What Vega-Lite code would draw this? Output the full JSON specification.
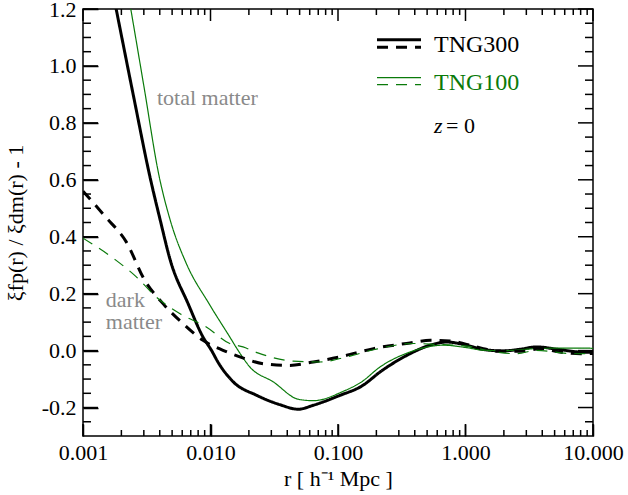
{
  "$schema": "https://vega.github.io/schema/vega-lite/v6.json",
  "width": 510,
  "height": 427,
  "autosize": {"type": "none"},
  "padding": {"left": 83, "top": 9, "right": 35, "bottom": 59},
  "background": "white",
  "config": {
    "view": {"stroke": "black", "strokeWidth": 1.5}
  },
  "datasets": {
    "curves": [
      {"sim": "TNG300", "kind": "total", "r": 0.0015, "v": 1.39},
      {"sim": "TNG300", "kind": "total", "r": 0.00182, "v": 1.2},
      {"sim": "TNG300", "kind": "total", "r": 0.0025, "v": 0.89},
      {"sim": "TNG300", "kind": "total", "r": 0.00333, "v": 0.616},
      {"sim": "TNG300", "kind": "total", "r": 0.00404, "v": 0.457},
      {"sim": "TNG300", "kind": "total", "r": 0.00484, "v": 0.317},
      {"sim": "TNG300", "kind": "total", "r": 0.00667, "v": 0.165},
      {"sim": "TNG300", "kind": "total", "r": 0.00873, "v": 0.048},
      {"sim": "TNG300", "kind": "total", "r": 0.0102, "v": 0.0},
      {"sim": "TNG300", "kind": "total", "r": 0.0115, "v": -0.042},
      {"sim": "TNG300", "kind": "total", "r": 0.0151, "v": -0.11},
      {"sim": "TNG300", "kind": "total", "r": 0.023, "v": -0.157},
      {"sim": "TNG300", "kind": "total", "r": 0.035, "v": -0.19},
      {"sim": "TNG300", "kind": "total", "r": 0.0489, "v": -0.206},
      {"sim": "TNG300", "kind": "total", "r": 0.064, "v": -0.192},
      {"sim": "TNG300", "kind": "total", "r": 0.104, "v": -0.157},
      {"sim": "TNG300", "kind": "total", "r": 0.153, "v": -0.125},
      {"sim": "TNG300", "kind": "total", "r": 0.22, "v": -0.071},
      {"sim": "TNG300", "kind": "total", "r": 0.367, "v": -0.011},
      {"sim": "TNG300", "kind": "total", "r": 0.527, "v": 0.019},
      {"sim": "TNG300", "kind": "total", "r": 0.713, "v": 0.03},
      {"sim": "TNG300", "kind": "total", "r": 1.02, "v": 0.019},
      {"sim": "TNG300", "kind": "total", "r": 1.38, "v": 0.004},
      {"sim": "TNG300", "kind": "total", "r": 1.98, "v": -0.001},
      {"sim": "TNG300", "kind": "total", "r": 2.7, "v": 0.005},
      {"sim": "TNG300", "kind": "total", "r": 3.6, "v": 0.013},
      {"sim": "TNG300", "kind": "total", "r": 5.2, "v": 0.005},
      {"sim": "TNG300", "kind": "total", "r": 7.9, "v": -0.005},
      {"sim": "TNG300", "kind": "total", "r": 10, "v": -0.006},
      {"sim": "TNG100", "kind": "total", "r": 0.002, "v": 1.39},
      {"sim": "TNG100", "kind": "total", "r": 0.00237, "v": 1.2},
      {"sim": "TNG100", "kind": "total", "r": 0.003, "v": 0.93},
      {"sim": "TNG100", "kind": "total", "r": 0.00394, "v": 0.616},
      {"sim": "TNG100", "kind": "total", "r": 0.00484, "v": 0.457},
      {"sim": "TNG100", "kind": "total", "r": 0.00646, "v": 0.306},
      {"sim": "TNG100", "kind": "total", "r": 0.00973, "v": 0.165},
      {"sim": "TNG100", "kind": "total", "r": 0.01416, "v": 0.048},
      {"sim": "TNG100", "kind": "total", "r": 0.0165, "v": 0.0},
      {"sim": "TNG100", "kind": "total", "r": 0.0204, "v": -0.058},
      {"sim": "TNG100", "kind": "total", "r": 0.0311, "v": -0.11},
      {"sim": "TNG100", "kind": "total", "r": 0.0489, "v": -0.171},
      {"sim": "TNG100", "kind": "total", "r": 0.064, "v": -0.176},
      {"sim": "TNG100", "kind": "total", "r": 0.11, "v": -0.143},
      {"sim": "TNG100", "kind": "total", "r": 0.153, "v": -0.11},
      {"sim": "TNG100", "kind": "total", "r": 0.213, "v": -0.058},
      {"sim": "TNG100", "kind": "total", "r": 0.367, "v": -0.005},
      {"sim": "TNG100", "kind": "total", "r": 0.67, "v": 0.019},
      {"sim": "TNG100", "kind": "total", "r": 1.0, "v": 0.011},
      {"sim": "TNG100", "kind": "total", "r": 1.4, "v": 0.001},
      {"sim": "TNG100", "kind": "total", "r": 2.0, "v": 0.0},
      {"sim": "TNG100", "kind": "total", "r": 4.0, "v": 0.008},
      {"sim": "TNG100", "kind": "total", "r": 8.0, "v": 0.009},
      {"sim": "TNG100", "kind": "total", "r": 10, "v": 0.008},
      {"sim": "TNG300", "kind": "dm", "r": 0.001, "v": 0.56},
      {"sim": "TNG300", "kind": "dm", "r": 0.0015, "v": 0.47},
      {"sim": "TNG300", "kind": "dm", "r": 0.00219, "v": 0.381},
      {"sim": "TNG300", "kind": "dm", "r": 0.00305, "v": 0.247},
      {"sim": "TNG300", "kind": "dm", "r": 0.00424, "v": 0.165},
      {"sim": "TNG300", "kind": "dm", "r": 0.00608, "v": 0.095},
      {"sim": "TNG300", "kind": "dm", "r": 0.00873, "v": 0.036},
      {"sim": "TNG300", "kind": "dm", "r": 0.01253, "v": 0.001},
      {"sim": "TNG300", "kind": "dm", "r": 0.017, "v": -0.022},
      {"sim": "TNG300", "kind": "dm", "r": 0.026, "v": -0.046},
      {"sim": "TNG300", "kind": "dm", "r": 0.042, "v": -0.052},
      {"sim": "TNG300", "kind": "dm", "r": 0.064, "v": -0.04},
      {"sim": "TNG300", "kind": "dm", "r": 0.104, "v": -0.022},
      {"sim": "TNG300", "kind": "dm", "r": 0.19, "v": 0.007},
      {"sim": "TNG300", "kind": "dm", "r": 0.367, "v": 0.027},
      {"sim": "TNG300", "kind": "dm", "r": 0.53, "v": 0.036},
      {"sim": "TNG300", "kind": "dm", "r": 0.755, "v": 0.034},
      {"sim": "TNG300", "kind": "dm", "r": 1.02, "v": 0.022},
      {"sim": "TNG300", "kind": "dm", "r": 1.38, "v": 0.007},
      {"sim": "TNG300", "kind": "dm", "r": 1.75, "v": -0.002},
      {"sim": "TNG300", "kind": "dm", "r": 2.8, "v": -0.002},
      {"sim": "TNG300", "kind": "dm", "r": 3.9, "v": 0.007},
      {"sim": "TNG300", "kind": "dm", "r": 5.5, "v": -0.005},
      {"sim": "TNG300", "kind": "dm", "r": 8, "v": -0.011},
      {"sim": "TNG300", "kind": "dm", "r": 10, "v": -0.01},
      {"sim": "TNG100", "kind": "dm", "r": 0.001, "v": 0.395},
      {"sim": "TNG100", "kind": "dm", "r": 0.00182, "v": 0.317},
      {"sim": "TNG100", "kind": "dm", "r": 0.00262, "v": 0.259},
      {"sim": "TNG100", "kind": "dm", "r": 0.00376, "v": 0.188},
      {"sim": "TNG100", "kind": "dm", "r": 0.00573, "v": 0.13},
      {"sim": "TNG100", "kind": "dm", "r": 0.00927, "v": 0.083},
      {"sim": "TNG100", "kind": "dm", "r": 0.01416, "v": 0.025},
      {"sim": "TNG100", "kind": "dm", "r": 0.018, "v": 0.013},
      {"sim": "TNG100", "kind": "dm", "r": 0.0235, "v": -0.008},
      {"sim": "TNG100", "kind": "dm", "r": 0.0446, "v": -0.037},
      {"sim": "TNG100", "kind": "dm", "r": 0.072, "v": -0.04},
      {"sim": "TNG100", "kind": "dm", "r": 0.117, "v": -0.022},
      {"sim": "TNG100", "kind": "dm", "r": 0.19, "v": 0.003},
      {"sim": "TNG100", "kind": "dm", "r": 0.39, "v": 0.025},
      {"sim": "TNG100", "kind": "dm", "r": 0.58, "v": 0.022},
      {"sim": "TNG100", "kind": "dm", "r": 1.06, "v": 0.015},
      {"sim": "TNG100", "kind": "dm", "r": 1.39, "v": 0.003},
      {"sim": "TNG100", "kind": "dm", "r": 2.5, "v": -0.011},
      {"sim": "TNG100", "kind": "dm", "r": 3.6, "v": 0.001},
      {"sim": "TNG100", "kind": "dm", "r": 7.0, "v": -0.011},
      {"sim": "TNG100", "kind": "dm", "r": 10, "v": -0.01}
    ],
    "notes": [
      {"label": "total matter", "r": 0.0038, "v": 0.862},
      {"label": "dark", "r": 0.00151, "v": 0.152},
      {"label": "matter", "r": 0.00151, "v": 0.075}
    ],
    "keytext": [
      {"label": "TNG300", "sim": "TNG300", "r": 0.566, "v": 1.049},
      {"label": "TNG100", "sim": "TNG100", "r": 0.566, "v": 0.917}
    ],
    "keylines": [
      {"sim": "TNG300", "kind": "total", "r1": 0.2023, "r2": 0.4477, "v": 1.092},
      {"sim": "TNG300", "kind": "dm", "r1": 0.2023, "r2": 0.4477, "v": 1.066},
      {"sim": "TNG100", "kind": "total", "r1": 0.2023, "r2": 0.4477, "v": 0.959},
      {"sim": "TNG100", "kind": "dm", "r1": 0.2023, "r2": 0.4477, "v": 0.934}
    ],
    "redshift": [
      {"z": "z", "eq": "= 0", "r": 0.566, "r2": 0.703, "v": 0.764}
    ],
    "xticks": [
      {"t": 0.001, "b1": -0.3, "b2": -0.2579, "u1": 1.2, "u2": 1.1579},
      {"t": 0.01, "b1": -0.3, "b2": -0.2579, "u1": 1.2, "u2": 1.1579},
      {"t": 0.1, "b1": -0.3, "b2": -0.2579, "u1": 1.2, "u2": 1.1579},
      {"t": 1, "b1": -0.3, "b2": -0.2579, "u1": 1.2, "u2": 1.1579},
      {"t": 10, "b1": -0.3, "b2": -0.2579, "u1": 1.2, "u2": 1.1579},
      {"t": 0.002, "b1": -0.3, "b2": -0.2789, "u1": 1.2, "u2": 1.1789},
      {"t": 0.003, "b1": -0.3, "b2": -0.2789, "u1": 1.2, "u2": 1.1789},
      {"t": 0.004, "b1": -0.3, "b2": -0.2789, "u1": 1.2, "u2": 1.1789},
      {"t": 0.005, "b1": -0.3, "b2": -0.2789, "u1": 1.2, "u2": 1.1789},
      {"t": 0.006, "b1": -0.3, "b2": -0.2789, "u1": 1.2, "u2": 1.1789},
      {"t": 0.007, "b1": -0.3, "b2": -0.2789, "u1": 1.2, "u2": 1.1789},
      {"t": 0.008, "b1": -0.3, "b2": -0.2789, "u1": 1.2, "u2": 1.1789},
      {"t": 0.009, "b1": -0.3, "b2": -0.2789, "u1": 1.2, "u2": 1.1789},
      {"t": 0.02, "b1": -0.3, "b2": -0.2789, "u1": 1.2, "u2": 1.1789},
      {"t": 0.03, "b1": -0.3, "b2": -0.2789, "u1": 1.2, "u2": 1.1789},
      {"t": 0.04, "b1": -0.3, "b2": -0.2789, "u1": 1.2, "u2": 1.1789},
      {"t": 0.05, "b1": -0.3, "b2": -0.2789, "u1": 1.2, "u2": 1.1789},
      {"t": 0.06, "b1": -0.3, "b2": -0.2789, "u1": 1.2, "u2": 1.1789},
      {"t": 0.07, "b1": -0.3, "b2": -0.2789, "u1": 1.2, "u2": 1.1789},
      {"t": 0.08, "b1": -0.3, "b2": -0.2789, "u1": 1.2, "u2": 1.1789},
      {"t": 0.09, "b1": -0.3, "b2": -0.2789, "u1": 1.2, "u2": 1.1789},
      {"t": 0.2, "b1": -0.3, "b2": -0.2789, "u1": 1.2, "u2": 1.1789},
      {"t": 0.3, "b1": -0.3, "b2": -0.2789, "u1": 1.2, "u2": 1.1789},
      {"t": 0.4, "b1": -0.3, "b2": -0.2789, "u1": 1.2, "u2": 1.1789},
      {"t": 0.5, "b1": -0.3, "b2": -0.2789, "u1": 1.2, "u2": 1.1789},
      {"t": 0.6, "b1": -0.3, "b2": -0.2789, "u1": 1.2, "u2": 1.1789},
      {"t": 0.7, "b1": -0.3, "b2": -0.2789, "u1": 1.2, "u2": 1.1789},
      {"t": 0.8, "b1": -0.3, "b2": -0.2789, "u1": 1.2, "u2": 1.1789},
      {"t": 0.9, "b1": -0.3, "b2": -0.2789, "u1": 1.2, "u2": 1.1789},
      {"t": 2, "b1": -0.3, "b2": -0.2789, "u1": 1.2, "u2": 1.1789},
      {"t": 3, "b1": -0.3, "b2": -0.2789, "u1": 1.2, "u2": 1.1789},
      {"t": 4, "b1": -0.3, "b2": -0.2789, "u1": 1.2, "u2": 1.1789},
      {"t": 5, "b1": -0.3, "b2": -0.2789, "u1": 1.2, "u2": 1.1789},
      {"t": 6, "b1": -0.3, "b2": -0.2789, "u1": 1.2, "u2": 1.1789},
      {"t": 7, "b1": -0.3, "b2": -0.2789, "u1": 1.2, "u2": 1.1789},
      {"t": 8, "b1": -0.3, "b2": -0.2789, "u1": 1.2, "u2": 1.1789},
      {"t": 9, "b1": -0.3, "b2": -0.2789, "u1": 1.2, "u2": 1.1789}
    ],
    "yticks": [
      {"t": -0.2, "l1": 0.001, "l2": 0.001311, "r1": 7.627, "r2": 10},
      {"t": 0, "l1": 0.001, "l2": 0.001311, "r1": 7.627, "r2": 10},
      {"t": 0.2, "l1": 0.001, "l2": 0.001311, "r1": 7.627, "r2": 10},
      {"t": 0.4, "l1": 0.001, "l2": 0.001311, "r1": 7.627, "r2": 10},
      {"t": 0.6, "l1": 0.001, "l2": 0.001311, "r1": 7.627, "r2": 10},
      {"t": 0.8, "l1": 0.001, "l2": 0.001311, "r1": 7.627, "r2": 10},
      {"t": 1.0, "l1": 0.001, "l2": 0.001311, "r1": 7.627, "r2": 10},
      {"t": 1.2, "l1": 0.001, "l2": 0.001311, "r1": 7.627, "r2": 10},
      {"t": -0.25, "l1": 0.001, "l2": 0.001155, "r1": 8.655, "r2": 10},
      {"t": -0.15, "l1": 0.001, "l2": 0.001155, "r1": 8.655, "r2": 10},
      {"t": -0.1, "l1": 0.001, "l2": 0.001155, "r1": 8.655, "r2": 10},
      {"t": -0.05, "l1": 0.001, "l2": 0.001155, "r1": 8.655, "r2": 10},
      {"t": 0.05, "l1": 0.001, "l2": 0.001155, "r1": 8.655, "r2": 10},
      {"t": 0.1, "l1": 0.001, "l2": 0.001155, "r1": 8.655, "r2": 10},
      {"t": 0.15, "l1": 0.001, "l2": 0.001155, "r1": 8.655, "r2": 10},
      {"t": 0.25, "l1": 0.001, "l2": 0.001155, "r1": 8.655, "r2": 10},
      {"t": 0.3, "l1": 0.001, "l2": 0.001155, "r1": 8.655, "r2": 10},
      {"t": 0.35, "l1": 0.001, "l2": 0.001155, "r1": 8.655, "r2": 10},
      {"t": 0.45, "l1": 0.001, "l2": 0.001155, "r1": 8.655, "r2": 10},
      {"t": 0.5, "l1": 0.001, "l2": 0.001155, "r1": 8.655, "r2": 10},
      {"t": 0.55, "l1": 0.001, "l2": 0.001155, "r1": 8.655, "r2": 10},
      {"t": 0.65, "l1": 0.001, "l2": 0.001155, "r1": 8.655, "r2": 10},
      {"t": 0.7, "l1": 0.001, "l2": 0.001155, "r1": 8.655, "r2": 10},
      {"t": 0.75, "l1": 0.001, "l2": 0.001155, "r1": 8.655, "r2": 10},
      {"t": 0.85, "l1": 0.001, "l2": 0.001155, "r1": 8.655, "r2": 10},
      {"t": 0.9, "l1": 0.001, "l2": 0.001155, "r1": 8.655, "r2": 10},
      {"t": 0.95, "l1": 0.001, "l2": 0.001155, "r1": 8.655, "r2": 10},
      {"t": 1.05, "l1": 0.001, "l2": 0.001155, "r1": 8.655, "r2": 10},
      {"t": 1.1, "l1": 0.001, "l2": 0.001155, "r1": 8.655, "r2": 10},
      {"t": 1.15, "l1": 0.001, "l2": 0.001155, "r1": 8.655, "r2": 10}
    ]
  },
  "encoding": {
    "x": {"type": "quantitative", "scale": {"type": "log", "domain": [0.001, 10], "nice": false}},
    "y": {"type": "quantitative", "scale": {"domain": [-0.3, 1.2], "nice": false, "zero": false}}
  },
  "layer": [
    {
      "data": {"name": "curves"},
      "mark": {"type": "line", "clip": true, "interpolate": "monotone"},
      "encoding": {
        "x": {"field": "r", "type": "quantitative",
          "axis": {"orient": "bottom", "values": [0.001, 0.01, 0.1, 1, 10], "format": ".3f", "offset": -12, "domain": false, "grid": false, "ticks": true, "tickColor": "black", "tickWidth": 1.5, "tickSize": 12, "labelPadding": 6, "labelFont": "Liberation Serif", "labelFontSize": 22, "labelColor": "black", "labelFlush": false, "labelOverlap": false, "labelBound": false, "title": "r  [ h⁻¹ Mpc ]", "titleFont": "Liberation Serif", "titleFontSize": 22, "titleFontWeight": "normal", "titleColor": "black", "titlePadding": 5}},
        "y": {"field": "v", "type": "quantitative",
          "axis": {"orient": "left", "values": [-0.2, 0, 0.2, 0.4, 0.6, 0.8, 1.0, 1.2], "labelExpr": "replace(format(datum.value, '.1f'), '−', '-')", "offset": -15, "domain": false, "grid": false, "ticks": true, "tickColor": "black", "tickWidth": 1.5, "tickSize": 15, "labelPadding": 7, "labelFont": "Liberation Serif", "labelFontSize": 22, "labelColor": "black", "labelFlush": false, "labelOverlap": false, "labelBound": false, "title": "ξfp(r) / ξdm(r)  -  1", "titleFont": "Liberation Serif", "titleFontSize": 22, "titleFontWeight": "normal", "titleColor": "black", "titlePadding": 14}},
        "detail": {"field": "kind"},
        "color": {"field": "sim", "type": "nominal", "scale": {"domain": ["TNG300", "TNG100"], "range": ["black", "#0a7a0a"]}, "legend": null},
        "strokeWidth": {"field": "sim", "type": "nominal", "scale": {"domain": ["TNG300", "TNG100"], "range": [3, 1.2]}, "legend": null},
        "strokeDash": {"field": "kind", "type": "nominal", "scale": {"domain": ["total", "dm"], "range": [[1, 0], [11, 8]]}, "legend": null}
      }
    },
    {
      "mark": {"type": "rule", "color": "black", "strokeWidth": 1, "strokeDash": [1.5, 4]},
      "encoding": {"y": {"datum": 0, "type": "quantitative"}}
    },
    {
      "data": {"name": "xticks"},
      "mark": {"type": "rule", "color": "black", "strokeWidth": 1.5},
      "encoding": {"x": {"field": "t", "type": "quantitative"}, "y": {"field": "b1", "type": "quantitative"}, "y2": {"field": "b2"}}
    },
    {
      "data": {"name": "xticks"},
      "mark": {"type": "rule", "color": "black", "strokeWidth": 1.5},
      "encoding": {"x": {"field": "t", "type": "quantitative"}, "y": {"field": "u1", "type": "quantitative"}, "y2": {"field": "u2"}}
    },
    {
      "data": {"name": "yticks"},
      "mark": {"type": "rule", "color": "black", "strokeWidth": 1.5},
      "encoding": {"y": {"field": "t", "type": "quantitative"}, "x": {"field": "l1", "type": "quantitative"}, "x2": {"field": "l2"}}
    },
    {
      "data": {"name": "yticks"},
      "mark": {"type": "rule", "color": "black", "strokeWidth": 1.5},
      "encoding": {"y": {"field": "t", "type": "quantitative"}, "x": {"field": "r1", "type": "quantitative"}, "x2": {"field": "r2"}}
    },
    {
      "data": {"name": "notes"},
      "mark": {"type": "text", "align": "left", "baseline": "alphabetic", "fontSize": 22, "color": "#8a8a8a", "font": "Liberation Serif"},
      "encoding": {
        "x": {"field": "r", "type": "quantitative"},
        "y": {"field": "v", "type": "quantitative"},
        "text": {"field": "label"}
      }
    },
    {
      "data": {"name": "keytext"},
      "mark": {"type": "text", "align": "left", "baseline": "alphabetic", "fontSize": 24, "font": "Liberation Serif"},
      "encoding": {
        "x": {"field": "r", "type": "quantitative"},
        "y": {"field": "v", "type": "quantitative"},
        "text": {"field": "label"},
        "color": {"field": "sim", "type": "nominal", "legend": null}
      }
    },
    {
      "data": {"name": "keylines"},
      "mark": {"type": "rule"},
      "encoding": {
        "x": {"field": "r1", "type": "quantitative"},
        "x2": {"field": "r2"},
        "y": {"field": "v", "type": "quantitative"},
        "color": {"field": "sim", "type": "nominal", "legend": null},
        "strokeWidth": {"field": "sim", "type": "nominal", "legend": null},
        "strokeDash": {"field": "kind", "type": "nominal", "legend": null}
      }
    },
    {
      "data": {"name": "redshift"},
      "mark": {"type": "text", "align": "left", "baseline": "alphabetic", "fontSize": 22, "fontStyle": "italic", "color": "black", "font": "Liberation Serif"},
      "encoding": {
        "x": {"field": "r", "type": "quantitative"},
        "y": {"field": "v", "type": "quantitative"},
        "text": {"field": "z"}
      }
    },
    {
      "data": {"name": "redshift"},
      "mark": {"type": "text", "align": "left", "baseline": "alphabetic", "fontSize": 22, "color": "black", "font": "Liberation Serif"},
      "encoding": {
        "x": {"field": "r2", "type": "quantitative"},
        "y": {"field": "v", "type": "quantitative"},
        "text": {"field": "eq"}
      }
    }
  ]
}
